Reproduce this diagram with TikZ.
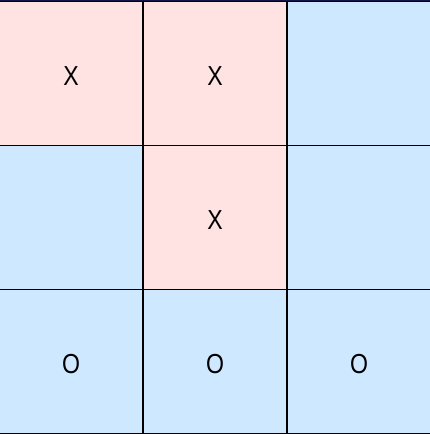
\documentclass[tikz,border=0pt]{standalone}
\usepackage{fontspec}
\newfontfamily\cellfont[FakeStretch=0.84]{Liberation Sans}
\usepackage{tikz}
\usetikzlibrary{positioning}
\definecolor{xpink}{RGB}{255,226,226}
\definecolor{oblue}{RGB}{206,232,255}
\definecolor{topnavy}{RGB}{20,20,70}

\begin{document}
\begin{tikzpicture}[x=1pt, y=1pt]
	\useasboundingbox (0,0) rectangle (430,434);
	\clip (0,0) rectangle (430,434);
	\begin{scope}[every node/.style={rectangle, draw=black, line width=1.6pt,
	              minimum width=144pt, minimum height=144pt, inner sep=0pt,
	              text height=24pt, text depth=0pt,
	              font=\cellfont\fontsize{27.5}{27.5}\selectfont}]
		\node[fill=xpink] (a1) at (71,360.5) {X};
		\node[fill=xpink] (a2) at (215,360.5) {X};
		\node[fill=oblue] (a3) at (359,360.5) {};
		\node[fill=oblue] (b1) at (71,216.5) {};
		\node[fill=xpink] (b2) at (215,216.5) {X};
		\node[fill=oblue] (b3) at (359,216.5) {};
		\node[fill=oblue] (c1) at (71,72.5) {O};
		\node[fill=oblue] (c2) at (215,72.5) {O};
		\node[fill=oblue] (c3) at (359,72.5) {O};
	\end{scope}

	% top edge of the board
	\draw[topnavy, line width=1.6pt] (a1.north west) -- (a3.north east);
\end{tikzpicture}
\end{document}
